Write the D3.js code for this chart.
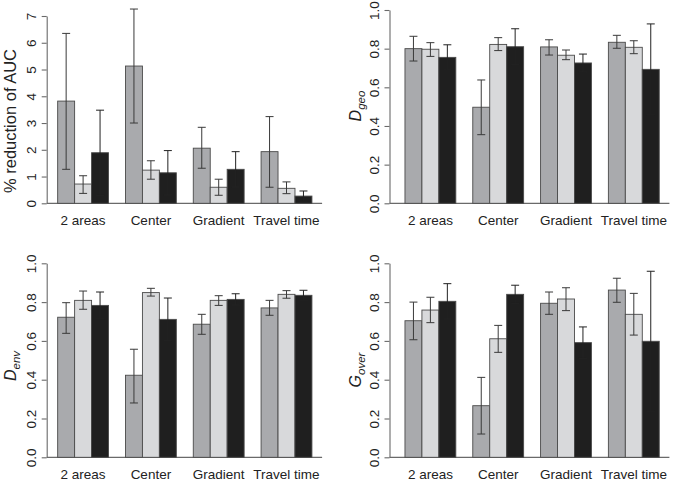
<!DOCTYPE html>
<html><head><meta charset="utf-8">
<script src="https://cdn.jsdelivr.net/npm/d3@7"></script>
<style>body{margin:0;background:#fff}svg{display:block}</style>
</head><body>
<script>
const categories = ["2 areas", "Center", "Gradient", "Travel time"];

// Panel A: % reduction of AUC  (series 1,2,3 ; values per category)
const aucMean = [[3.82, 5.13, 2.06, 1.93], [0.72, 1.24, 0.60, 0.56], [1.89, 1.14, 1.27, 0.27]];
const aucHi   = [[6.35, 7.26, 2.84, 3.24], [1.03, 1.59, 0.90, 0.80], [3.48, 1.97, 1.93, 0.46]];
const aucLo   = [[1.27, 3.00, 1.31, 0.60], [0.37, 0.90, 0.30, 0.36], [0.30, 0.31, 0.61, 0.08]];
const aucTicks = [0, 1, 2, 3, 4, 5, 6, 7];

// Panel B: D geo
const dgeoMean = [[0.800, 0.497, 0.809, 0.833], [0.797, 0.822, 0.766, 0.807], [0.755, 0.810, 0.726, 0.693]];
const dgeoHi   = [[0.864, 0.638, 0.846, 0.869], [0.831, 0.857, 0.793, 0.841], [0.820, 0.903, 0.772, 0.928]];
const dgeoLo   = [[0.736, 0.355, 0.767, 0.802], [0.760, 0.790, 0.743, 0.774], [0.690, 0.717, 0.680, 0.458]];

// Panel C: D env
const denvMean = [[0.722, 0.423, 0.686, 0.770], [0.809, 0.849, 0.809, 0.840], [0.783, 0.711, 0.814, 0.835]];
const denvHi   = [[0.797, 0.557, 0.737, 0.809], [0.857, 0.871, 0.833, 0.859], [0.852, 0.821, 0.843, 0.861]];
const denvLo   = [[0.639, 0.280, 0.634, 0.732], [0.763, 0.831, 0.783, 0.820], [0.714, 0.601, 0.785, 0.809]];

// Panel D: G over
const goverMean = [[0.704, 0.266, 0.794, 0.862], [0.759, 0.611, 0.816, 0.737], [0.804, 0.840, 0.591, 0.598]];
const goverHi   = [[0.800, 0.412, 0.852, 0.923], [0.825, 0.680, 0.874, 0.845], [0.895, 0.887, 0.672, 0.959]];
const goverLo   = [[0.606, 0.120, 0.737, 0.799], [0.694, 0.541, 0.756, 0.630], [0.713, 0.793, 0.510, 0.237]];
const unitTicks = [0, 0.2, 0.4, 0.6, 0.8, 1.0];

const seriesColors = ["#a9aaad", "#d8d9db", "#1f1f1f"];

const W = 673, H = 485;
const svg = d3.select("body").append("svg").attr("width", W).attr("height", H)
  .style("font-family", "'Liberation Sans', Arial, sans-serif");

const panels = [
  {mean: aucMean, hi: aucHi, lo: aucLo, ticks: aucTicks, ymax: 7, fmt: d3.format("d"),
   x0: 47.5, x1: 322.1, y0: 203.3, y1: 16, axisX: 46.7, labX: 16, labY: 121, label: {main: "% reduction of AUC"}},
  {mean: dgeoMean, hi: dgeoHi, lo: dgeoLo, ticks: unitTicks, ymax: 1, fmt: d3.format(".1f"),
   x0: 394.8, x1: 669.4, y0: 203.3, y1: 10, axisX: 389.5, labX: 361, labY: 106, label: {main: "D", sub: "geo"}},
  {mean: denvMean, hi: denvHi, lo: denvLo, ticks: unitTicks, ymax: 1, fmt: d3.format(".1f"),
   x0: 47.5, x1: 322.1, y0: 457.3, y1: 263.3, axisX: 46.7, labX: 16, labY: 366, label: {main: "D", sub: "env"}},
  {mean: goverMean, hi: goverHi, lo: goverLo, ticks: unitTicks, ymax: 1, fmt: d3.format(".1f"),
   x0: 394.8, x1: 669.4, y0: 457.3, y1: 263.3, axisX: 389.5, labX: 361, labY: 370, label: {main: "G", sub: "over"}}
];

panels.forEach(p => {
  const g = svg.append("g");
  // R barplot unit coordinates: groups of 3 bars width 1, one space between groups
  const x = d3.scaleLinear().domain([0.4, 16.6]).range([p.x0, p.x1]);
  const y = d3.scaleLinear().domain([0, p.ymax]).range([p.y0, p.y1]);
  const barLeft = (ci, si) => 1 + ci * 4 + si;

  // baseline
  g.append("line").attr("x1", p.axisX).attr("x2", x(16.6)).attr("y1", y(0)).attr("y2", y(0))
    .attr("stroke", "#6a6a6a").attr("stroke-width", 1.2);

  // bars
  p.mean.forEach((ser, si) => {
    ser.forEach((v, ci) => {
      g.append("rect")
        .attr("x", x(barLeft(ci, si))).attr("width", x(barLeft(ci, si) + 1) - x(barLeft(ci, si)))
        .attr("y", y(v)).attr("height", y(0) - y(v))
        .attr("fill", seriesColors[si]).attr("stroke", "#4a4a4a").attr("stroke-width", 0.9);
    });
  });
  // error bars
  p.mean.forEach((ser, si) => {
    ser.forEach((v, ci) => {
      const cx = x(barLeft(ci, si) + 0.5);
      const yh = y(p.hi[si][ci]), yl = y(p.lo[si][ci]);
      const col = si === 2 ? "#222" : "#3a3a3a";
      g.append("line").attr("x1", cx).attr("x2", cx).attr("y1", yh).attr("y2", yl)
        .attr("stroke", col).attr("stroke-width", 1);
      [yh, yl].forEach(yy => g.append("line").attr("x1", cx - 4).attr("x2", cx + 4)
        .attr("y1", yy).attr("y2", yy).attr("stroke", col).attr("stroke-width", 1));
    });
  });

  // y axis
  const ax = g.append("g").attr("transform", `translate(${p.axisX},0)`)
    .call(d3.axisLeft(y).tickValues(p.ticks).tickFormat(p.fmt).tickSize(5).tickSizeOuter(0));
  ax.select(".domain").attr("stroke", "#6a6a6a").attr("stroke-width", 1.1);
  ax.selectAll(".tick line").attr("stroke", "#6a6a6a").attr("stroke-width", 1.1);
  ax.selectAll(".tick text").attr("fill", "#222").style("font-size", "13.5px")
    .attr("x", null).attr("dy", null).attr("text-anchor", "middle")
    .attr("transform", "translate(-11,0) rotate(-90)");

  // category labels
  categories.forEach((c, ci) => {
    g.append("text").attr("x", x(1 + ci * 4 + 1.5)).attr("y", p.y0 + 22)
      .attr("text-anchor", "middle").attr("fill", "#222").style("font-size", "13.5px").text(c);
  });

  // y label
  const t = g.append("text").attr("transform", `translate(${p.labX},${p.labY}) rotate(-90)`)
    .attr("text-anchor", "middle").attr("fill", "#222");
  if (p.label.sub) {
    t.style("font-size", "16px");
    t.append("tspan").style("font-style", "italic").text(p.label.main);
    t.append("tspan").style("font-style", "italic").style("font-size", "11.5px")
      .attr("dy", 4).text(p.label.sub);
  } else {
    t.style("font-size", "16.5px").text(p.label.main);
  }
});
</script>
</body></html>
